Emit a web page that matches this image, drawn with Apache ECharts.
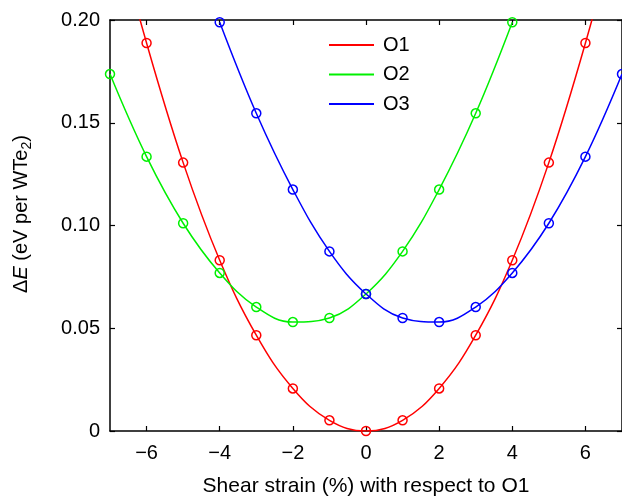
<!DOCTYPE html>
<html>
<head>
<meta charset="utf-8">
<script src="https://cdn.jsdelivr.net/npm/echarts@6/dist/echarts.min.js"></script>
<style>html,body{margin:0;padding:0;background:#fff}#c{width:622px;height:502px}</style>
</head>
<body>
<div id="c"></div>
<script>
var xO1 = [-7, -6, -5, -4, -3, -2, -1, 0, 1, 2, 3, 4, 5, 6, 7];
var yO1 = [0.255, 0.1888, 0.1306, 0.0831, 0.0466, 0.0207, 0.0052, 0, 0.0052, 0.0207, 0.0466, 0.0831, 0.1306, 0.1888, 0.255];
var xO2 = [-7, -6, -5, -4, -3, -2, -1, 0, 1, 2, 3, 4];
var yO2 = [0.1737, 0.1335, 0.1011, 0.0769, 0.0603, 0.0530, 0.0550, 0.0667, 0.0874, 0.1175, 0.1546, 0.1989];
var xO3 = [-4, -3, -2, -1, 0, 1, 2, 3, 4, 5, 6, 7];
var yO3 = [0.1989, 0.1546, 0.1175, 0.0874, 0.0667, 0.0550, 0.0530, 0.0603, 0.0769, 0.1011, 0.1335, 0.1737];
var seriesNames = ['O1', 'O2', 'O3'];
var xTicks = [-6, -4, -2, 0, 2, 4, 6];
var yTicks = [0, 0.05, 0.10, 0.15, 0.20];
var xTitle = 'Shear strain (%) with respect to O1';

var colors = ['#ff0000', '#00f000', '#0000ff'];
var FONT = '"Liberation Sans", Arial, Helvetica, sans-serif';

function pairs(xs, ys) { return xs.map(function (x, i) { return [x, ys[i]]; }); }
var allData = [pairs(xO1, yO1), pairs(xO2, yO2), pairs(xO3, yO3)];

function mkSeries(i) {
  return {
    name: seriesNames[i], type: 'line', data: allData[i],
    smooth: 0.4, clip: true,
    symbol: 'circle', symbolSize: 9,
    lineStyle: { color: colors[i], width: 1.5 },
    itemStyle: { color: 'transparent', borderColor: colors[i], borderWidth: 1.5 },
    emphasis: { disabled: true },
    z: 2 + i
  };
}

var axisLine = { show: true, onZero: false, lineStyle: { color: '#000', width: 1.5 } };
var tickStyle = { color: '#000', width: 1.2 };

var chart = echarts.init(document.getElementById('c'), null, { renderer: 'canvas' });
chart.setOption({
  animation: false,
  backgroundColor: '#fff',
  textStyle: { fontFamily: FONT },
  grid: { left: 110, top: 20, width: 515.5, height: 412.7, containLabel: false },
  legend: {
    orient: 'vertical', left: 329, top: 35, padding: 0, itemWidth: 45, itemHeight: 2, itemGap: 9.5,
    icon: 'rect',
    data: seriesNames.map(function (n, i) { return { name: n, itemStyle: { color: colors[i], borderWidth: 0 } }; }),
    textStyle: { fontSize: 20, color: '#000', fontFamily: FONT, padding: [0, 0, 0, 4] }
  },
  xAxis: [{
    type: 'value', min: -7, max: 7, position: 'bottom',
    axisLine: axisLine,
    axisTick: { show: true, inside: true, length: 5, lineStyle: tickStyle, customValues: xTicks },
    axisLabel: { fontSize: 20, color: '#000', margin: 12, fontFamily: FONT, customValues: xTicks,
      formatter: function (v) { return v < 0 ? '\u2212' + Math.abs(v) : String(v); } },
    splitLine: { show: false },
    name: xTitle, nameLocation: 'middle', nameGap: 45,
    nameTextStyle: { fontSize: 21, color: '#000', fontFamily: FONT }
  }, {
    type: 'value', min: -7, max: 7, position: 'top',
    axisLine: axisLine,
    axisTick: { show: true, inside: true, length: 5, lineStyle: tickStyle, customValues: xTicks },
    axisLabel: { show: false }, splitLine: { show: false }
  }],
  yAxis: [{
    type: 'value', min: 0, max: 0.2, interval: 0.05, position: 'left',
    axisLine: axisLine,
    axisTick: { show: true, inside: true, length: 5, lineStyle: tickStyle },
    axisLabel: { fontSize: 20, color: '#000', margin: 10, fontFamily: FONT,
      formatter: function (v) { return Math.abs(v) < 1e-9 ? '0' : v.toFixed(2); } },
    splitLine: { show: false },
    name: '{i|\u0394}{it|E}{n| (eV per WTe}{sub|2}{n|)}',
    nameLocation: 'middle', nameGap: 76, nameRotate: 90,
    nameTextStyle: {
      color: '#000', fontSize: 20, fontFamily: FONT, padding: [0, 0, 0, 23],
      rich: {
        i: { fontSize: 20, color: '#000', fontFamily: FONT, lineHeight: 26 },
        it: { fontSize: 20, color: '#000', fontFamily: FONT, fontStyle: 'italic', lineHeight: 26 },
        n: { fontSize: 20, color: '#000', fontFamily: FONT, lineHeight: 26 },
        sub: { fontSize: 14, color: '#000', fontFamily: FONT, lineHeight: 14, verticalAlign: 'bottom' }
      }
    }
  }, {
    type: 'value', min: 0, max: 0.2, interval: 0.05, position: 'right',
    axisLine: axisLine,
    axisTick: { show: true, inside: true, length: 5, lineStyle: tickStyle },
    axisLabel: { show: false }, splitLine: { show: false }
  }],
  series: [mkSeries(0), mkSeries(1), mkSeries(2)]
});
</script>
</body>
</html>
